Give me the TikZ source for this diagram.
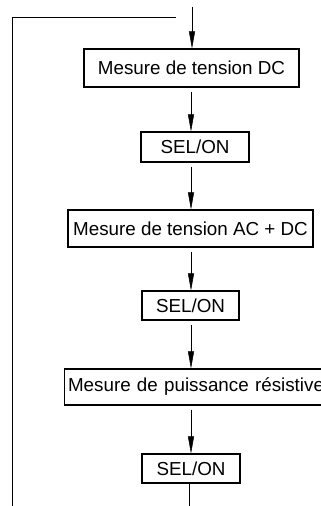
\documentclass[tikz,border=0pt]{standalone}
\usepackage{fontspec}
\setmainfont{Liberation Sans}
\usetikzlibrary{arrows.meta}
\tikzstyle{etape}=[draw,line width=1.1pt,font=\fontsize{18.8}{23}\selectfont,inner sep=0pt]
\tikzstyle{fleche}=[line width=0.5pt,-{Triangle[length=17pt,width=6pt]}]

\begin{document}
\begin{tikzpicture}[x=1pt,y=-1pt]
  \clip (0,0) rectangle (321,506);
  \coordinate (axe) at (191,0);
  \foreach \place/\name/\larg/\haut/\texte in {{(191.5,68)/dc/215/38/{Mesure de tension DC}},
                                               {(195,147)/sela/108/30/{SEL/ON}},
                                               {(190.5,228.5)/acdc/245/37/{Mesure de tension AC + DC}},
                                               {(190.5,305.5)/selb/97/29/{SEL/ON}},
                                               {(191,468.5)/selc/98/29/{SEL/ON}}}
    \node[etape,minimum width=\larg pt,minimum height=\haut pt] (\name) at \place {\texte};
  \node[etape,anchor=west,inner xsep=3.5pt,text width=290pt,align=left,minimum height=36pt]
    (puis) at (64,387) {Mesure de puissance résistive};
  % boucle de retour
  \coordinate (entree) at (192,7);
  \coordinate (retour) at (176,17);
  \coordinate (coin) at (12,17);
  \coordinate (bas) at (12,506);
  \coordinate (sortie) at (189,506);
  \draw[line width=0.7pt] (retour) -- (coin) -- (bas);
  \draw[fleche] (entree) -- (dc.north -| entree);
  \foreach \source/\dest in {dc/sela,sela/acdc,acdc/selb,selb/puis,puis/selc}
      \draw[fleche,shorten <=4pt] (\source.south -| axe) -- (\dest.north -| axe);
  \draw[line width=0.7pt] (selc.south -| sortie) -- (sortie);
\end{tikzpicture}
\end{document}
